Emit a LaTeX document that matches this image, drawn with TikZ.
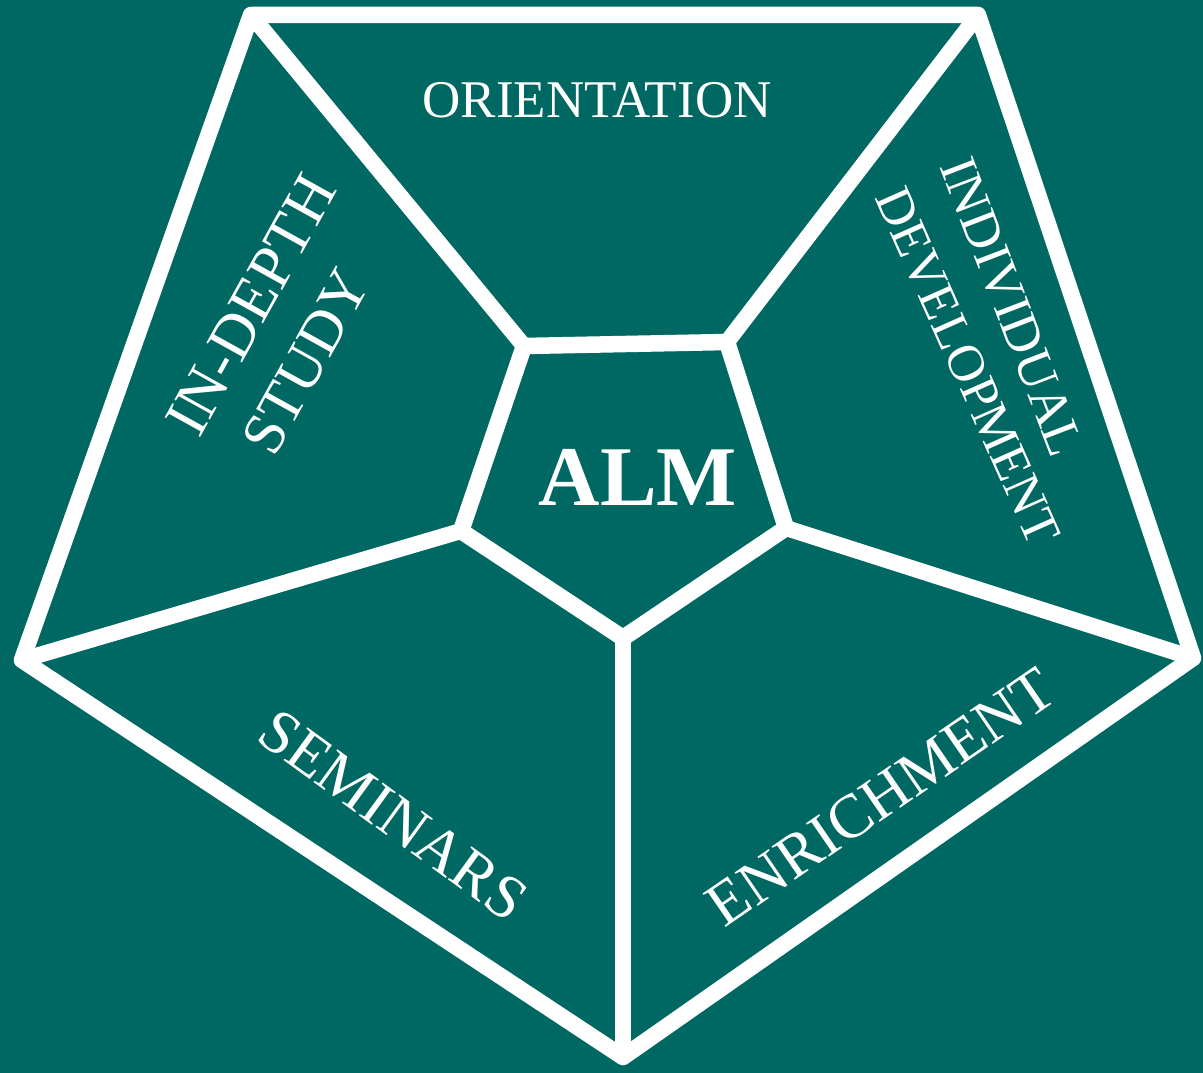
\documentclass[tikz,border=0pt]{standalone}
\usepackage{fontspec}
\setmainfont{Liberation Serif}
\usepackage{tikz}

\definecolor{almteal}{RGB}{0,104,99}

\begin{document}
\begin{tikzpicture}[x=1pt,y=-1pt]

        \fill[almteal] (0,0) rectangle (1203,1073);
        \useasboundingbox (0,0) rectangle (1203,1073);

        % outer corners
        \coordinate (o1) at (251,15);
        \coordinate (o2) at (978,15);
        \coordinate (o3) at (1193,658);
        \coordinate (o4) at (623,1057);
        \coordinate (o5) at (22,660);

        % inner corners
        \coordinate (i1) at (524,346);
        \coordinate (i2) at (727,342);
        \coordinate (i3) at (786,528);
        \coordinate (i4) at (623,638);
        \coordinate (i5) at (461,531);

        \begin{scope}[every path/.style={draw=white, line width=16.5pt, line join=round}]
          \path (o1) -- (o2) -- (o3) -- (o4) -- (o5) -- cycle;
          \path (i1) -- (i2) -- (i3) -- (i4) -- (i5) -- cycle;

          \begin{scope}[every edge/.style={draw=white, line width=16pt}]
            \path (o1) edge (i1);
            \path (o2) edge (i2);
            \path (o3) edge (i3);
            \path (o4) edge (i4);
            \path (o5) edge (i5);
          \end{scope}
        \end{scope}

        \begin{scope}[every node/.style={text=white, inner sep=0pt}]
          \node (alm)  at (638,477) {\fontsize{85}{90}\selectfont\bfseries ALM};
          \node (ori)  at (597,100) {\fontsize{53}{56}\selectfont ORIENTATION};
          \node[rotate=61]  (dep)  at (251,305) {\fontsize{62}{66}\selectfont IN-DEPTH};
          \node[rotate=61]  (stu)  at (306,362) {\fontsize{60}{66}\selectfont STUDY};
          \node[rotate=-69] (ind)  at (1012,307) {\fontsize{53}{56}\selectfont INDIVIDUAL};
          \node[rotate=-66] (dev)  at (968,366) {\fontsize{52}{56}\selectfont DEVELOPMENT};
          \node[rotate=-36] (sem)  at (393,815) {\fontsize{62}{66}\selectfont SEMINARS};
          \node[rotate=34.5] (enr) at (881,797) {\fontsize{62}{66}\selectfont ENRICHMENT};
        \end{scope}

      \end{tikzpicture}
\end{document}
